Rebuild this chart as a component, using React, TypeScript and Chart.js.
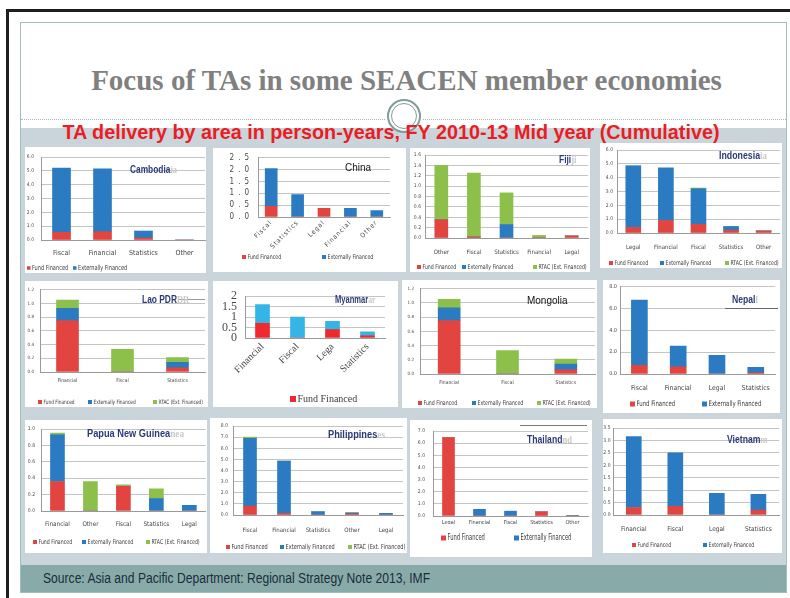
import React, { useEffect, useRef } from "react";
import { Chart, registerables } from "chart.js";

Chart.register(...registerables);

const RED = "#e2443f";
const BLUE = "#2b7bc3";
const GREEN = "#8dc04b";
const M_RED = "#ee2a2e";
const M_BLUE = "#35b4e6";
const NAVY = "#2b3a7c";
const GHOST = "#c9c9c9";

const NARROW = '"Liberation Sans Narrow", "DejaVu Sans Condensed", "Liberation Sans", Arial, sans-serif';
const SANS = '"Liberation Sans", Arial, sans-serif';
const SERIF = '"Liberation Serif", "DejaVu Serif", serif';

const LEG_FUND = "Fund Financed";
const LEG_EXT = "Externally Financed";
const LEG_RTAC = "RTAC (Ext. Financed)";

// ---- Cambodia
const cambodiaCats = ["Fiscal", "Financial", "Statistics", "Other"];
const cambodiaFund = [0.55, 0.6, 0.15, 0];
const cambodiaExt = [4.65, 4.55, 0.5, 0];
// ---- China
const chinaCats = ["Fiscal", "Statistics", "Legal", "Financial", "Other"];
const chinaFund = [0.45, 0, 0.37, 0, 0];
const chinaExt = [1.6, 0.95, 0, 0.37, 0.27];
// ---- Fiji
const fijiCats = ["Other", "Fiscal", "Statistics", "Financial", "Legal"];
const fijiFund = [0.35, 0.02, 0, 0, 0.04];
const fijiExt = [0, 0, 0.26, 0, 0];
const fijiRtac = [1.05, 1.23, 0.61, 0.05, 0];
// ---- Indonesia
const indonesiaCats = ["Legal", "Financial", "Fiscal", "Statistics", "Other"];
const indonesiaFund = [0.4, 0.9, 0.62, 0.2, 0.15];
const indonesiaExt = [4.45, 3.8, 2.58, 0.27, 0];
const indonesiaRtac = [0, 0, 0.05, 0, 0];
// ---- Lao PDR
const laoCats = ["Financial", "Fiscal", "Statistics"];
const laoFund = [0.75, 0, 0.06];
const laoExt = [0.18, 0, 0.08];
const laoRtac = [0.12, 0.33, 0.07];
// ---- Myanmar
const myanmarCats = ["Financial", "Fiscal", "Lega", "Statistics"];
const myanmarFund = [0.7, 0, 0.4, 0.1];
const myanmarExt = [0.9, 1.0, 0.4, 0.2];
// ---- Mongolia
const mongoliaCats = ["Financial", "Fiscal", "Statistics"];
const mongoliaFund = [0.75, 0, 0.06];
const mongoliaExt = [0.18, 0, 0.08];
const mongoliaRtac = [0.12, 0.33, 0.07];
// ---- Nepal
const nepalCats = ["Fiscal", "Financial", "Legal", "Statistics"];
const nepalFund = [0.8, 0.65, 0, 0.1];
const nepalExt = [5.95, 1.9, 1.7, 0.5];
// ---- Papua New Guinea
const pngCats = ["Financial", "Other", "Fiscal", "Statistics", "Legal"];
const pngFund = [0.36, 0, 0.3, 0, 0];
const pngExt = [0.57, 0, 0, 0.15, 0.07];
const pngRtac = [0.02, 0.36, 0.02, 0.12, 0];
// ---- Philippines
const phCats = ["Fiscal", "Financial", "Statistics", "Other", "Legal"];
const phFund = [0.8, 0.15, 0, 0.1, 0];
const phExt = [6.1, 4.7, 0.3, 0.1, 0.15];
const phRtac = [0.1, 0, 0, 0, 0];
// ---- Thailand
const thCats = ["Legal", "Financial", "Fiscal", "Statistics", "Other"];
const thFund = [6.45, 0, 0, 0.35, 0];
const thExt = [0, 0.55, 0.4, 0, 0.05];
// ---- Vietnam
const vnCats = ["Financial", "Fiscal", "Legal", "Statistics"];
const vnFund = [0.3, 0.35, 0, 0.2];
const vnExt = [2.85, 2.15, 0.87, 0.63];

type Series = { label: string; data: number[]; color: string };
type Cfg = {
  x: number; y: number; w: number; h: number;
  plot: [number, number, number, number];
  cats: string[];
  series: Series[];
  yMax: number; yStep: number; dec?: number;
  tickSize: number; tickPad: number; tickFamily?: string;
  xSize: number; xPad: number; xFamily?: string; rotate?: number;
  bar: number;
  legY: number; legXs: number[]; legSize: number; legBox: number; legFamily?: string; legCount?: number; legScale?: number;
  clipY?: number;
  xSpacing?: string; ySpacing?: string;
};

const s2 = (f: number[], e: number[], r = RED, b = BLUE): Series[] => [
  { label: LEG_FUND, data: f, color: r },
  { label: LEG_EXT, data: e, color: b },
];
const s3 = (f: number[], e: number[], g: number[]): Series[] => [
  { label: LEG_FUND, data: f, color: RED },
  { label: LEG_EXT, data: e, color: BLUE },
  { label: LEG_RTAC, data: g, color: GREEN },
];

const panels: Cfg[] = [
  { x: 25, y: 147, w: 181, h: 126, plot: [41, 152, 205, 240], cats: cambodiaCats, series: s2(cambodiaFund, cambodiaExt),
    yMax: 6, yStep: 1, dec: 1, tickSize: 5, tickPad: 7, xSize: 7, xPad: 9, bar: 18,
    legY: 268, legXs: [27, 73], legSize: 7, legBox: 3.5 },
  { x: 213, y: 148, w: 193, h: 124, plot: [258, 156, 390, 217], cats: chinaCats, series: s2(chinaFund, chinaExt),
    yMax: 2.5, yStep: 0.5, dec: 1, tickSize: 8, tickPad: 5, xSize: 6.5, xPad: 2, rotate: 45, bar: 12,
    legY: 257, legXs: [242, 322], legSize: 6.5, legBox: 4, xSpacing: "1px", ySpacing: "4px" },
  { x: 410, y: 148, w: 180, h: 124, plot: [425, 152, 588, 238], cats: fijiCats, series: s3(fijiFund, fijiExt, fijiRtac),
    yMax: 1.6, yStep: 0.2, dec: 1, tickSize: 5, tickPad: 4, xSize: 6, xPad: 10.5, bar: 13,
    legY: 267, legXs: [417, 462, 533], legSize: 6.5, legBox: 4 },
  { x: 600, y: 143, w: 182, h: 125, plot: [617, 145, 780, 233], cats: indonesiaCats, series: s3(indonesiaFund, indonesiaExt, indonesiaRtac),
    yMax: 6, yStep: 1, dec: 1, tickSize: 5, tickPad: 4, xSize: 6, xPad: 10.5, bar: 15,
    legY: 263, legXs: [609, 660, 725], legSize: 6.5, legBox: 4 },
  { x: 25, y: 281, w: 183, h: 126, plot: [40, 285, 205, 372], cats: laoCats, series: s3(laoFund, laoExt, laoRtac),
    yMax: 1.2, yStep: 0.2, dec: 1, tickSize: 4.5, tickPad: 6, xSize: 5, xPad: 6, bar: 22,
    legY: 402, legXs: [38, 88, 153], legSize: 6, legBox: 4 },
  { x: 213, y: 281, w: 185, h: 126, plot: [245, 293, 385, 338], cats: myanmarCats, series: s2(myanmarFund, myanmarExt, M_RED, M_BLUE),
    yMax: 2, yStep: 0.5, tickSize: 12, tickFamily: SERIF, tickPad: 8, xSize: 10, xFamily: SERIF, rotate: 45, xPad: 3, bar: 14,
    legY: 399, legXs: [290], legSize: 10, legFamily: SERIF, legBox: 6, legCount: 1, legScale: 1 },
  { x: 402, y: 280, w: 195, h: 128, plot: [420, 286, 595, 374], cats: mongoliaCats, series: s3(mongoliaFund, mongoliaExt, mongoliaRtac),
    yMax: 1.2, yStep: 0.2, dec: 1, tickSize: 4.5, tickPad: 6, xSize: 5, xPad: 6, bar: 22,
    legY: 403, legXs: [418, 472, 537], legSize: 6.5, legBox: 4 },
  { x: 603, y: 280, w: 177, h: 133, plot: [620, 286, 778, 374], cats: nepalCats, series: s2(nepalFund, nepalExt),
    yMax: 8, yStep: 2, dec: 1, tickSize: 5.5, tickPad: 3, xSize: 6.8, xPad: 10, bar: 16,
    legY: 404, legXs: [630, 702], legSize: 7.5, legBox: 5 },
  { x: 25, y: 420, w: 182, h: 133, plot: [41, 426, 206, 511], cats: pngCats, series: s3(pngFund, pngExt, pngRtac),
    yMax: 1.0, yStep: 0.2, dec: 1, tickSize: 5, tickPad: 6, xSize: 6.3, xPad: 10, bar: 14,
    legY: 542, legXs: [33, 82, 146], legSize: 6.5, legBox: 4 },
  { x: 210, y: 418, w: 197, h: 135, plot: [233, 423, 403, 515], cats: phCats, series: s3(phFund, phExt, phRtac),
    yMax: 8, yStep: 1, dec: 1, tickSize: 5, tickPad: 5, xSize: 6, xPad: 11.5, bar: 13,
    legY: 547, legXs: [226, 280, 348], legSize: 7, legBox: 4 },
  { x: 410, y: 420, w: 182, h: 137, plot: [433, 426, 588, 516], cats: thCats, series: s2(thFund, thExt),
    yMax: 7, yStep: 1, dec: 1, tickSize: 5, tickPad: 8, xSize: 5.5, xPad: 3.5, bar: 12,
    legY: 538, legXs: [441, 514], legSize: 8.5, legBox: 5, legScale: 0.68, clipY: 524 },
  { x: 603, y: 419, w: 179, h: 134, plot: [613, 428, 780, 515], cats: vnCats, series: s2(vnFund, vnExt),
    yMax: 3.5, yStep: 0.5, dec: 1, tickSize: 5, tickPad: 2.5, xSize: 6.5, xPad: 10, bar: 15,
    legY: 545, legXs: [632, 703], legSize: 6.5, legBox: 4 },
];

type T = { text: string; ghost?: string; x: number; y: number; size: number; color: string; bold: boolean; family: string; sx: number };
const titles: T[] = [
  { text: "Cambodia", ghost: "ia", x: 130, y: 167, size: 11, color: NAVY, bold: true, family: SANS, sx: 0.76 },
  { text: "China", x: 345, y: 166, size: 10.5, color: "#111", bold: false, family: SANS, sx: 0.95 },
  { text: "Fiji", ghost: "ji", x: 559, y: 158, size: 10.5, color: NAVY, bold: true, family: SANS, sx: 0.8 },
  { text: "Indonesia", ghost: "ia", x: 719, y: 153, size: 11, color: NAVY, bold: true, family: SANS, sx: 0.8 },
  { text: "Lao PDR", ghost: "DR", x: 142, y: 298, size: 10.5, color: NAVY, bold: true, family: SANS, sx: 0.8 },
  { text: "Myanmar", ghost: "ar", x: 335, y: 298, size: 10.5, color: NAVY, bold: true, family: SANS, sx: 0.72 },
  { text: "Mongolia", x: 527, y: 299, size: 10.5, color: "#111", bold: false, family: SANS, sx: 0.95 },
  { text: "Nepal", ghost: "l", x: 732, y: 298, size: 10.5, color: NAVY, bold: true, family: SANS, sx: 0.82 },
  { text: "Papua New Guinea", ghost: "nea", x: 87, y: 431, size: 11, color: NAVY, bold: true, family: SANS, sx: 0.84 },
  { text: "Philippines", ghost: "es", x: 328, y: 432, size: 11, color: NAVY, bold: true, family: SANS, sx: 0.84 },
  { text: "Thailand", ghost: "nd", x: 527, y: 438, size: 10.5, color: NAVY, bold: true, family: SANS, sx: 0.82 },
  { text: "Vietnam", ghost: "m", x: 727, y: 438, size: 10.5, color: NAVY, bold: true, family: SANS, sx: 0.82 },
];

function PanelChart({ p }: { p: Cfg }) {
  const ref = useRef<HTMLCanvasElement>(null);
  useEffect(() => {
    const canvas = ref.current!;
    const [l, t, r, b] = p.plot;
    const yW = l - p.x;
    const xH = p.y + p.h - b;
    const padTop = t - p.y;
    const padRight = p.x + p.w - r;
    const rot = p.rotate ?? 0;
    const plugin = {
      id: "panelDecor",
      beforeDraw(chart: any) {
        if (p.xSpacing) chart.ctx.letterSpacing = p.xSpacing;
      },
      afterDatasetsDraw(chart: any) {
        if (p.ySpacing) chart.ctx.letterSpacing = p.ySpacing;
      },
      afterDraw(chart: any) {
        const ctx = chart.ctx;
        ctx.letterSpacing = "0px";
        ctx.save();
        if (p.clipY != null) {
          ctx.fillStyle = "#ffffff";
          ctx.fillRect(0, p.clipY - p.y, p.w, p.h);
        }
        ctx.font = `${p.legSize}px ${p.legFamily ?? NARROW}`;
        ctx.textBaseline = "middle";
        ctx.textAlign = "left";
        const ly = p.legY - p.y;
        const sc = p.legScale ?? 0.8;
        const n = p.legCount ?? chart.data.datasets.length;
        chart.data.datasets.slice(0, n).forEach((ds: any, i: number) => {
          const lx = p.legXs[i] - p.x;
          ctx.fillStyle = ds.backgroundColor;
          ctx.fillRect(lx, ly - p.legBox / 2, p.legBox, p.legBox);
          ctx.fillStyle = "#3a3a3a";
          ctx.save();
          ctx.translate(lx + p.legBox + 1.5, ly);
          ctx.scale(sc, 1);
          ctx.fillText(ds.label, 0, 0);
          ctx.restore();
        });
        ctx.restore();
      },
    };
    const chart = new Chart(canvas, {
      type: "bar",
      data: {
        labels: p.cats,
        datasets: p.series.map((s) => ({
          label: s.label,
          data: s.data,
          backgroundColor: s.color,
          borderWidth: 0,
          barThickness: p.bar,
        })),
      },
      options: {
        animation: false,
        responsive: false,
        maintainAspectRatio: false,
        layout: { padding: { top: padTop, right: padRight, left: 0, bottom: 0 } },
        plugins: { legend: { display: false }, tooltip: { enabled: false }, title: { display: false } },
        scales: {
          x: {
            stacked: true,
            grid: { display: false, drawTicks: false },
            border: { color: "#9a9a9a" },
            ticks: {
              autoSkip: false,
              maxRotation: rot,
              minRotation: rot,
              padding: p.xPad,
              color: "#444",
              font: { family: p.xFamily ?? NARROW, size: p.xSize },
            },
            afterFit: (a: any) => { a.height = xH; },
          },
          y: {
            stacked: true,
            min: 0,
            max: p.yMax,
            grid: { color: "#c4c4c4", drawTicks: false },
            border: { color: "#9a9a9a" },
            ticks: {
              autoSkip: false,
              stepSize: p.yStep,
              padding: p.tickPad,
              color: "#4a4a4a",
              z: p.ySpacing ? 1 : 0,
              font: { family: p.tickFamily ?? NARROW, size: p.tickSize },
              callback: (v: any) => (p.dec != null ? Number(v).toFixed(p.dec) : String(+Number(v).toFixed(2))),
            },
            afterFit: (a: any) => { a.width = yW; },
          },
        },
      } as any,
      plugins: [plugin],
    });
    return () => chart.destroy();
  }, [p]);
  return (
    <canvas
      ref={ref}
      width={p.w}
      height={p.h}
      style={{ position: "absolute", left: p.x, top: p.y, width: p.w, height: p.h, background: "#fff" }}
    />
  );
}

const abs = (s: React.CSSProperties): React.CSSProperties => ({ position: "absolute", ...s });

export default function App() {
  return (
    <div style={abs({ left: 0, top: 0, width: 790, height: 598, background: "#fff", overflow: "hidden" })}>
      <div style={abs({ left: 6, top: 9, width: 784, height: 3, background: "#1e1e1e" })} />
      <div style={abs({ left: 6, top: 9, width: 3, height: 589, background: "#1e1e1e" })} />
      <div style={abs({ left: 20, top: 22, width: 767, height: 571, border: "1px solid #a3bcbc", boxSizing: "border-box" })} />
      <div style={abs({ left: 0, top: 63, width: 813, textAlign: "center", font: `bold 29px/34px ${SERIF}`, color: "#808080", whiteSpace: "nowrap" })}>
        Focus of TAs in some SEACEN member economies
      </div>
      <div style={abs({ left: 21, top: 119, width: 364, borderTop: "1px dotted #a9b9b9" })} />
      <div style={abs({ left: 423, top: 119, width: 363, borderTop: "1px dotted #a9b9b9" })} />
      <div style={abs({ left: 21, top: 128, width: 765, height: 437, background: "#c9d5db" })} />
      <div style={abs({ left: 387, top: 99, width: 34, height: 34, boxSizing: "border-box", border: "2px solid #7f9b9b", borderRadius: "50%", background: "#fff" })} />
      <div style={abs({ left: 391, top: 103, width: 26, height: 26, boxSizing: "border-box", border: "1.5px solid #7f9b9b", borderRadius: "50%" })} />
      <div style={abs({ left: 0, top: 121, width: 782, textAlign: "center", font: `bold 19.8px/22px ${SANS}`, color: "#ec1c24", whiteSpace: "nowrap" })}>
        TA delivery by area in person-years, FY 2010-13 Mid year (Cumulative)
      </div>
      {panels.map((p, i) => (
        <PanelChart key={i} p={p} />
      ))}
      <div style={abs({ left: 178, top: 299, width: 27, height: 1, background: "#9a9a9a" })} />
      <div style={abs({ left: 725, top: 308, width: 53, height: 1, background: "#6a6a6a" })} />
      <div style={abs({ left: 520, top: 425, width: 67, height: 1, background: "#7a7a7a" })} />
      {titles.map((t, i) => (
        <div
          key={i}
          style={abs({
            left: t.x,
            top: t.y - t.size / 2 - 1,
            whiteSpace: "nowrap",
            lineHeight: `${t.size + 2}px`,
            transform: `scaleX(${t.sx})`,
            transformOrigin: "left center",
          })}
        >
          <span style={{ font: `${t.bold ? "bold " : ""}${t.size}px ${t.family}`, color: t.color }}>{t.text}</span>
          {t.ghost ? <span style={{ font: `bold ${t.size}px ${SERIF}`, color: GHOST }}>{t.ghost}</span> : null}
        </div>
      ))}
      <div style={abs({ left: 21, top: 565, width: 765, height: 27, background: "#88abaa" })} />
      <div
        style={abs({
          left: 43,
          top: 569,
          font: `14px/18px ${SANS}`,
          color: "#1b2b3b",
          whiteSpace: "nowrap",
          transform: "scaleX(0.865)",
          transformOrigin: "left center",
        })}
      >
        Source: Asia and Pacific Department: Regional Strategy Note 2013, IMF
      </div>
    </div>
  );
}
